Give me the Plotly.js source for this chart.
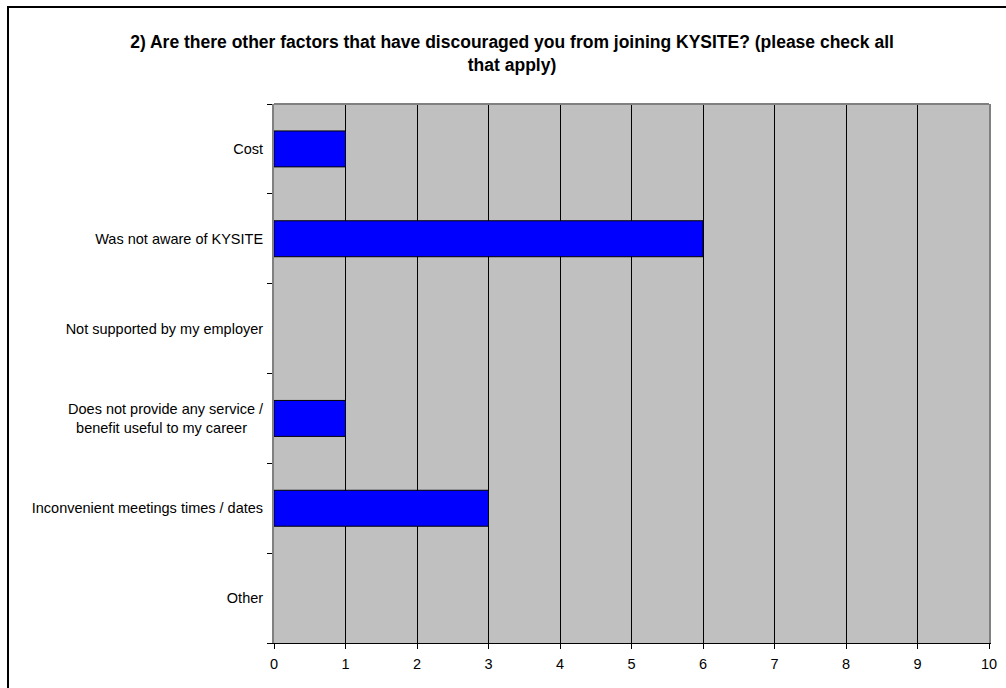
<!DOCTYPE html>
<html>
<head>
<meta charset="utf-8">
<script src="https://cdn.plot.ly/plotly-3.0.1.min.js"></script>
<style>
  html, body { margin: 0; padding: 0; background: #fff; }
  #wrap { position: relative; width: 1006px; height: 688px; overflow: hidden; }
  #chart { position: absolute; left: 0; top: 0; width: 1006px; height: 688px; }
  #frame { position: absolute; left: 7px; top: 6px; width: 1020px; height: 720px; border: 2px solid #000; pointer-events: none; }
</style>
</head>
<body>
<div id="wrap">
  <div id="chart"></div>
  <div id="frame"></div>
</div>
<script>
const chartTitle = "2) Are there other factors that have discouraged you from joining KYSITE? (please check all<br>that apply)";
const categories = [
  "Cost",
  "Was not aware of KYSITE",
  "Not supported by my employer",
  "Does not provide any service / benefit useful to my career",
  "Inconvenient meetings times / dates",
  "Other"
];
const categoryLabels = [
  "Cost",
  "Was not aware of KYSITE",
  "Not supported by my employer",
  "Does not provide any service /<br>benefit useful to my career&nbsp;&nbsp;&nbsp;&nbsp;",
  "Inconvenient meetings times / dates",
  "Other"
];
const counts = [1, 6, 0, 1, 3, 0];
const xTickVals = [0, 1, 2, 3, 4, 5, 6, 7, 8, 9, 10];

const font = "Arial, 'Liberation Sans', sans-serif";

const trace = {
  type: "bar",
  orientation: "h",
  x: counts,
  y: categories,
  marker: {
    color: "#0000FF",
    line: { color: "#000000", width: counts.map(v => (v ? 1 : 0)) }
  },
  hoverinfo: "x+y"
};

const layout = {
  width: 1006,
  height: 688,
  margin: { l: 274, r: 17, t: 104, b: 45, pad: 0 },
  paper_bgcolor: "#ffffff",
  plot_bgcolor: "#C0C0C0",
  showlegend: false,
  bargap: 0.6,
  font: { family: font, size: 14.5, color: "#000" },
  title: {
    text: chartTitle,
    font: { family: font, size: 17.5, color: "#000", weight: "bold" },
    xref: "container", x: 0.509, xanchor: "center",
    yref: "container", y: 1 - 48 / 688, yanchor: "middle"
  },
  xaxis: {
    range: [0, 10],
    tickvals: xTickVals,
    ticktext: xTickVals.map(String),
    showgrid: true, gridcolor: "#000000", gridwidth: 1,
    zeroline: false,
    showline: true, linecolor: "#000000", linewidth: 1,
    ticks: "outside", ticklen: 5, tickcolor: "#000000", tickwidth: 1,
    tickfont: { family: font, size: 14.5, color: "#000" },
    ticklabelstandoff: 3,
    fixedrange: true
  },
  yaxis: {
    type: "category",
    categoryorder: "array",
    categoryarray: categories,
    tickvals: categories,
    ticktext: categoryLabels,
    autorange: "reversed",
    tickson: "boundaries",
    ticks: "outside", ticklen: 5, tickcolor: "#000000", tickwidth: 1,
    showgrid: false, zeroline: false,
    showline: true, linecolor: "#808080", linewidth: 2, mirror: true,
    tickfont: { family: font, size: 14.5, color: "#000" },
    ticklabelstandoff: 6,
    fixedrange: true
  },
  shapes: [
    { type: "line", xref: "paper", yref: "paper", x0: 0, x1: 1, y0: 1, y1: 1,
      line: { color: "#808080", width: 2 }, layer: "above" }
  ]
};

Plotly.newPlot("chart", [trace], layout, { displayModeBar: false, staticPlot: true });
</script>
</body>
</html>
